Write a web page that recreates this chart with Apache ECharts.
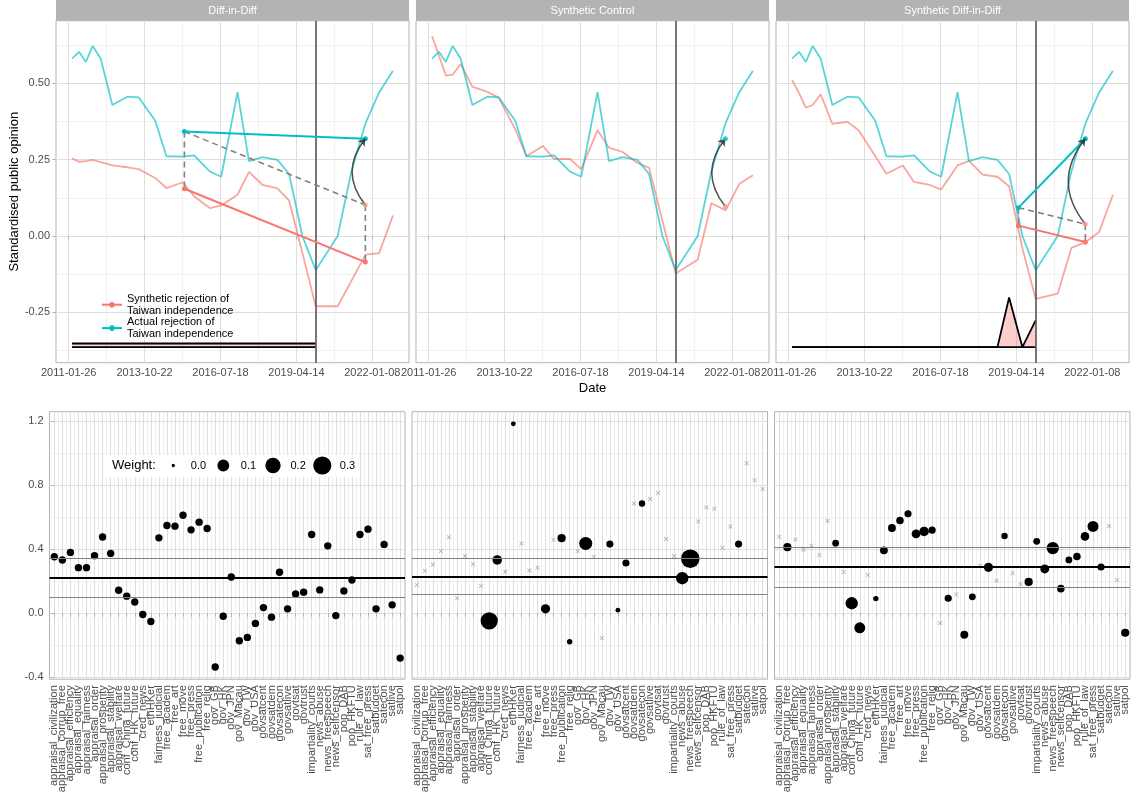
<!DOCTYPE html>
<html><head><meta charset="utf-8">
<script src="https://cdn.jsdelivr.net/npm/echarts@6/dist/echarts.min.js"></script>
<style>html,body{margin:0;padding:0;background:#fff}#c{width:1136px;height:798px}</style>
</head><body><div id="c"></div>
<script>
// ================= DATA =================
const panelTitles = ['Diff-in-Diff', 'Synthetic Control', 'Synthetic Diff-in-Diff'];
const dates = ['2011-03-11','2011-06-11','2011-09-09','2011-12-08','2012-03-22','2012-08-23','2013-03-08','2013-08-04','2014-03-11','2014-08-05','2015-03-10','2015-08-04','2016-03-02','2016-07-27','2017-02-27','2017-07-28','2018-01-24','2018-08-07','2019-01-08','2019-07-02','2019-12-24','2020-10-09','2021-04-07','2021-10-12','2022-04-08','2022-10-07'];
const nPre = 21;
const actual    = [0.581,0.603,0.570,0.622,0.581,0.429,0.456,0.454,0.377,0.261,0.260,0.264,0.211,0.194,0.471,0.245,0.258,0.249,0.203,0.000,-0.112,0.000,0.211,0.370,0.470,0.541];
const synthDID  = [0.254,0.243,0.245,0.249,0.242,0.231,0.225,0.219,0.190,0.157,0.176,0.130,0.091,0.100,0.135,0.210,0.167,0.156,0.116,-0.056,-0.230,-0.230,-0.147,-0.061,-0.056,0.067];
const synthSC   = [0.654,0.590,0.525,0.528,0.563,0.489,0.472,0.453,0.350,0.261,0.295,0.252,0.252,0.219,0.346,0.289,0.275,0.239,0.223,0.050,-0.123,-0.078,0.107,0.084,0.170,0.199];
const synthSDID = [0.511,0.468,0.420,0.429,0.464,0.367,0.374,0.346,0.262,0.204,0.231,0.177,0.167,0.152,0.231,0.246,0.201,0.194,0.163,-0.040,-0.206,-0.189,-0.039,-0.020,0.013,0.135];
// time weights (lambda) for pre-treatment periods
const lambdaDID  = [0.0476,0.0476,0.0476,0.0476,0.0476,0.0476,0.0476,0.0476,0.0476,0.0476,0.0476,0.0476,0.0476,0.0476,0.0476,0.0476,0.0476,0.0476,0.0476,0.0476,0.0476];
const lambdaSDID = [0,0,0,0,0,0,0,0,0,0,0,0,0,0,0,0,0,0,0.65,0,0.35];
const lambdaBase = -0.364;   // y level of the weight ribbon
const lambdaScale = 0.25;    // ribbon height per unit weight
const seriesNames = ['Synthetic rejection of\nTaiwan independence', 'Actual rejection of\nTaiwan independence'];
const dateTicks = ['2011-01-26','2013-10-22','2016-07-18','2019-04-14','2022-01-08'];
const topYTicks = [-0.25, 0, 0.25, 0.5];

const units = ['appraisal_civilization','appraisal_corrup_free','appraisal_efficiency','appraisal_equality','appraisal_fairness','appraisal_order','appraisal_prosperity','appraisal_stability','appraisal_welfare','conf_China_future','conf_HK_future','cred_news','ethHKer','fairness_judicial','free_academ','free_art','free_move','free_press','free_publication','free_relig','gov_GB','gov_HK','gov_JPN','gov_Macau','gov_TW','gov_USA','govsatcent','govsatdem','govsatecon','govsatlive','govtsat','govtrust','impartiality_courts','news_abuse','news_freespeech','news_selfcensor','pop_DAB','pop_HKFTU','rule_of_law','sat_free_press','satbudget','satecon','satlive','satpol'];
const unitEstDID  = [0.352,0.332,0.379,0.284,0.284,0.359,0.475,0.373,0.143,0.106,0.070,-0.008,-0.052,0.470,0.547,0.543,0.611,0.520,0.568,0.528,-0.336,-0.019,0.226,-0.172,-0.151,-0.064,0.035,-0.025,0.255,0.027,0.120,0.131,0.491,0.145,0.420,-0.015,0.139,0.207,0.491,0.524,0.027,0.429,0.052,-0.280];
const unitWDID    = [0.0227,0.0227,0.0227,0.0227,0.0227,0.0227,0.0227,0.0227,0.0227,0.0227,0.0227,0.0227,0.0227,0.0227,0.0227,0.0227,0.0227,0.0227,0.0227,0.0227,0.0227,0.0227,0.0227,0.0227,0.0227,0.0227,0.0227,0.0227,0.0227,0.0227,0.0227,0.0227,0.0227,0.0227,0.0227,0.0227,0.0227,0.0227,0.0227,0.0227,0.0227,0.0227,0.0227,0.0227];
const unitEstSC   = [0.176,0.265,0.303,0.388,0.473,0.093,0.356,0.305,0.170,-0.048,0.332,0.259,1.181,0.435,0.267,0.284,0.027,0.458,0.468,-0.178,0.388,0.435,0.350,-0.155,0.431,0.019,0.313,0.684,0.684,0.713,0.750,0.462,0.356,0.218,0.340,0.572,0.659,0.651,0.408,0.541,0.431,0.935,0.829,0.775];
const unitWSC     = [0,0,0,0,0,0,0,0,0,0.266,0.053,0,0.003,0,0,0,0.048,0,0.033,0.006,0,0.131,0,0,0.020,0.003,0.020,0,0.013,0,0,0,0,0.112,0.320,0,0,0,0,0,0.020,0,0,0];
const unitEstSDID = [0.477,0.412,0.460,0.396,0.421,0.363,0.576,0.437,0.257,0.062,-0.091,0.238,0.091,0.392,0.531,0.578,0.620,0.495,0.510,0.518,-0.062,0.093,0.116,-0.135,0.102,0.296,0.286,0.203,0.481,0.249,0.180,0.195,0.448,0.276,0.406,0.153,0.332,0.354,0.479,0.541,0.288,0.543,0.205,-0.122];
const unitWSDID   = [0,0.033,0,0,0,0,0,0.017,0,0.112,0.081,0,0.006,0.029,0.029,0.025,0.020,0.043,0.053,0.020,0,0.020,0,0.029,0.017,0,0.048,0,0.014,0,0,0.033,0.017,0.043,0.112,0.025,0.017,0.025,0.038,0.081,0.020,0,0,0.033];
const estimate = [0.218, 0.226, 0.288];
const estLow   = [0.095, 0.118, 0.162];
const estHigh  = [0.336, 0.336, 0.415];
const bottomYTicks = [-0.4, 0, 0.4, 0.8, 1.2];
const weightBreaks = [0, 0.1, 0.2, 0.3];

// ================= HELPERS =================
const RED = '#F8766D', CYAN = '#00BFC4';
const FONT = 'Liberation Sans, Arial, Helvetica, sans-serif';
const LAB = '#4d4d4d', TICK = '#b3b3b3';
const pad2 = n => String(n).padStart(2, '0');
const toT = s => { const p = s.split('-').map(Number); return new Date(p[0], p[1] - 1, p[2]).getTime(); };
const fmtDate = v => { const d = new Date(v); return d.getFullYear() + '-' + pad2(d.getMonth() + 1) + '-' + pad2(d.getDate()); };
const sz = w => 3.3 + 27 * Math.sqrt(w);
const expand = (lo, hi) => [lo - 0.05 * (hi - lo), hi + 0.05 * (hi - lo)];
function minorOf(ticks, lo, hi) {
  const out = [];
  const step0 = ticks[1] - ticks[0], stepN = ticks[ticks.length - 1] - ticks[ticks.length - 2];
  out.push(ticks[0] - step0 / 2);
  for (let i = 0; i < ticks.length - 1; i++) out.push((ticks[i] + ticks[i + 1]) / 2);
  out.push(ticks[ticks.length - 1] + stepN / 2);
  return out.filter(v => v >= lo && v <= hi);
}

const tT = dates.map(toT);
const preIdx = tT.map((_, i) => i).filter(i => i < nPre);
const postIdx = tT.map((_, i) => i).filter(i => i >= nPre);
const xTicks = dateTicks.map(toT);
const [xMin, xMax] = expand(tT[0], tT[tT.length - 1]);
const topAll = actual.concat(synthDID, synthSC, synthSDID, [lambdaBase]);
const [tyMin, tyMax] = expand(Math.min(...topAll), Math.max(...topAll));
const botAll = unitEstDID.concat(unitEstSC, unitEstSDID);
const [byMin, byMax] = expand(Math.min(...botAll), Math.max(...botAll));
const nU = units.length;
const uIdx = units.map((_, i) => i);

// ================= LAYOUT =================
const topLeft = [56, 416, 776], topW = 353, topTop = 20.7, topH = 342;
const botLeft = [49.5, 412, 774.5], botW = 355.5, botTop = 411.7, botH = 267.5;

const grids = [], xAxes = [], yAxes = [], series = [], graphics = [];
const GMAJ = { show: true, lineStyle: { color: '#dedede', width: 1 } };
const GMIN = { show: true, lineStyle: { color: '#ebebeb', width: 0.7 } };

function addGrid(left, top, width, height, xc, yc) {
  const g = grids.length;
  grids.push({ left, top, width, height, show: true, borderColor: '#b3b3b3', borderWidth: 1, backgroundColor: 'transparent', containLabel: false, outerBoundsMode: 'none' });
  const labelGroups = xc.labelGroups || [xc.major];
  const xLab = Object.assign({ show: true, color: LAB, fontSize: 11, fontFamily: FONT, hideOverlap: false, showMinLabel: true, showMaxLabel: true }, xc.label);
  const xi = xAxes.length;
  xAxes.push({ type: 'value', gridIndex: g, min: xc.min, max: xc.max, position: 'bottom',
    axisLine: { show: false },
    axisTick: { show: true, customValues: xc.major, length: 3.7, lineStyle: { color: TICK } },
    axisLabel: Object.assign({}, xLab, { customValues: labelGroups[0] }),
    splitLine: GMAJ });
  xAxes.push({ type: 'value', gridIndex: g, min: xc.min, max: xc.max, position: 'top',
    axisLine: { show: false }, axisTick: { show: false, customValues: xc.minor }, axisLabel: { show: false }, splitLine: GMIN });
  for (let j = 1; j < labelGroups.length; j++) {
    xAxes.push({ type: 'value', gridIndex: g, min: xc.min, max: xc.max, position: 'bottom', offset: 0,
      axisLine: { show: false }, axisTick: { show: false }, splitLine: { show: false },
      axisLabel: Object.assign({}, xLab, { customValues: labelGroups[j] }) });
  }
  const yi = yAxes.length;
  yAxes.push({ type: 'value', gridIndex: g, min: yc.min, max: yc.max, position: 'left',
    axisLine: { show: false },
    axisTick: { show: yc.showLabels, customValues: yc.major, length: 3.7, lineStyle: { color: TICK } },
    axisLabel: { show: yc.showLabels, customValues: yc.major, color: LAB, fontSize: 11, fontFamily: FONT, margin: 6, formatter: yc.fmt, hideOverlap: false, showMinLabel: true, showMaxLabel: true },
    splitLine: GMAJ });
  yAxes.push({ type: 'value', gridIndex: g, min: yc.min, max: yc.max, position: 'right',
    axisLine: { show: false }, axisTick: { show: false, customValues: yc.minor }, axisLabel: { show: false }, splitLine: GMIN });
  return { xAxisIndex: xi, yAxisIndex: yi };
}

// ================= TOP PANELS =================
const topPanels = [
  { synth: synthDID, lambda: lambdaDID, kind: 'did' },
  { synth: synthSC, lambda: null, kind: 'sc' },
  { synth: synthSDID, lambda: lambdaSDID, kind: 'did' }
];
const xMinor = minorOf(xTicks, xMin, xMax);
const tyMinor = minorOf(topYTicks, tyMin, tyMax);

function wmean(idx, w, arr) { let s = 0, sw = 0; idx.forEach((i, k) => { s += w[k] * arr[i]; sw += w[k]; }); return s / sw; }
function mean(idx, arr) { return idx.reduce((a, i) => a + arr[i], 0) / idx.length; }

topPanels.forEach((P, p) => {
  const ax = addGrid(topLeft[p], topTop, topW, topH,
    { min: xMin, max: xMax, major: xTicks, minor: xMinor, label: { formatter: fmtDate, margin: 5 } },
    { min: tyMin, max: tyMax, major: topYTicks, minor: tyMinor, showLabels: p === 0, fmt: v => v.toFixed(2) });
  graphics.push({ type: 'rect', shape: { x: topLeft[p], y: 0, width: topW, height: topTop }, style: { fill: '#b3b3b3' }, z: 50 });
  graphics.push({ type: 'text', x: topLeft[p] + topW / 2, y: topTop / 2 + 0.5, style: { text: panelTitles[p], fill: '#fff', fontSize: 11, fontFamily: FONT, textAlign: 'center', textVerticalAlign: 'middle' }, z: 51 });

  if (P.lambda) {
    const lam = P.lambda;
    // pink ribbon between baseline and weight line, via the axes' own coordinate mapping
    series.push(Object.assign({ type: 'custom', silent: true, z: 2, data: [[tT[0], lambdaBase]],
      renderItem: (params, api) => {
        const pts = [];
        preIdx.forEach(i => pts.push(api.coord([tT[i], lambdaBase + lam[i] * lambdaScale])));
        preIdx.slice().reverse().forEach(i => pts.push(api.coord([tT[i], lambdaBase])));
        return { type: 'polygon', shape: { points: pts }, style: { fill: 'rgba(248,118,109,0.35)' } };
      } }, ax));
    series.push(Object.assign({ type: 'line', data: preIdx.map(i => [tT[i], lambdaBase]), symbol: 'none', silent: true,
      lineStyle: { color: '#000', width: 1.8 }, z: 2 }, ax));
    series.push(Object.assign({ type: 'line', data: preIdx.map(i => [tT[i], lambdaBase + lam[i] * lambdaScale]), symbol: 'none', silent: true,
      lineStyle: { color: '#000', width: 1.8 }, z: 2 }, ax));
  }
  series.push(Object.assign({ name: seriesNames[0], type: 'line', data: tT.map((t, i) => [t, P.synth[i]]), symbol: 'circle', showSymbol: false, symbolSize: 5,
    itemStyle: { color: RED }, lineStyle: { color: RED, width: 1.8, opacity: 0.65 }, z: 3 }, ax));
  series.push(Object.assign({ name: seriesNames[1], type: 'line', data: tT.map((t, i) => [t, actual[i]]), symbol: 'circle', showSymbol: false, symbolSize: 5,
    itemStyle: { color: CYAN }, lineStyle: { color: CYAN, width: 1.8, opacity: 0.65 }, z: 3,
    markLine: { silent: true, symbol: ['none', 'none'], label: { show: false }, animation: false,
      lineStyle: { color: '#555', width: 1.6, type: 'solid', opacity: 1 }, data: [{ xAxis: tT[nPre - 1] }] } }, ax));

  const postT = mean(postIdx, tT), postA = mean(postIdx, actual), postS = mean(postIdx, P.synth);
  const seg = (a, b, color, extra) => series.push(Object.assign({ type: 'line', data: [a, b], silent: true, z: 5,
    symbol: 'none', lineStyle: { color, width: 2 } }, extra || {}, ax));
  const arrow = (from, to) => series.push(Object.assign({ type: 'lines', coordinateSystem: 'cartesian2d', silent: true, z: 6,
    symbol: ['none', 'arrow'], symbolSize: 7,
    lineStyle: { color: '#333', width: 1.5, curveness: 0.4, opacity: 0.85 }, data: [{ coords: [from, to] }] }, ax));
  const dot = (pt, color) => series.push(Object.assign({ type: 'scatter', data: [pt], symbolSize: 5, silent: true, z: 7, itemStyle: { color } }, ax));

  if (P.kind === 'did') {
    const preT = wmean(preIdx, P.lambda, tT), preA = wmean(preIdx, P.lambda, actual), preS = wmean(preIdx, P.lambda, P.synth);
    const cf = postS + (preA - preS);
    const dash = { lineStyle: { color: '#808080', width: 1.6, type: [6, 4] } };
    seg([preT, preA], [preT, preS], '#808080', dash);
    seg([postT, cf], [postT, postS], '#808080', dash);
    seg([preT, preA], [postT, cf], '#808080', dash);
    seg([preT, preS], [postT, postS], RED, { symbol: 'circle', symbolSize: 5, itemStyle: { color: RED } });
    seg([preT, preA], [postT, postA], CYAN, { symbol: 'circle', symbolSize: 5, itemStyle: { color: CYAN } });
    arrow([postT, cf], [postT, postA]);
    dot([postT, cf], '#f79a93');
  } else {
    arrow([postT, postS], [postT, postA]);
    dot([postT, postS], '#f79a93');
    dot([postT, postA], CYAN);
  }
});

// ================= BOTTOM PANELS =================
const unitPanels = [
  { est: unitEstDID, w: unitWDID },
  { est: unitEstSC, w: unitWSC },
  { est: unitEstSDID, w: unitWSDID }
];
const bxMajor = uIdx;
const bxMinor = uIdx.slice(0, nU - 1).map(i => i + 0.5);
const bxLabelGroups = [uIdx.filter(i => i % 2 === 0), uIdx.filter(i => i % 2 === 1)];
const byMinor = minorOf(bottomYTicks, byMin, byMax);
const CROSS = 'path://M0,1.2L1.2,0L5,3.8L8.8,0L10,1.2L6.2,5L10,8.8L8.8,10L5,6.2L1.2,10L0,8.8L3.8,5Z';

unitPanels.forEach((B, k) => {
  const ax = addGrid(botLeft[k], botTop, botW, botH,
    { min: -0.6, max: nU - 1 + 0.6, major: bxMajor, minor: bxMinor, labelGroups: bxLabelGroups,
      label: { rotate: 90, margin: 6, formatter: v => units[Math.round(v)] } },
    { min: byMin, max: byMax, major: bottomYTicks, minor: byMinor, showLabels: k === 0, fmt: v => v.toFixed(1) });
  series.push(Object.assign({ type: 'scatter', silent: true, z: 2,
    data: uIdx.filter(i => B.w[i] === 0).map(i => [i, B.est[i]]),
    symbol: CROSS, symbolSize: 4.5, itemStyle: { color: '#9a9a9a' },
    markLine: { silent: true, symbol: ['none', 'none'], label: { show: false }, animation: false,
      data: [
        { yAxis: estLow[k], lineStyle: { color: '#808080', width: 1.1, type: 'solid' } },
        { yAxis: estHigh[k], lineStyle: { color: '#808080', width: 1.1, type: 'solid' } },
        { yAxis: estimate[k], lineStyle: { color: '#000', width: 2.2, type: 'solid' } }
      ] } }, ax));
  series.push(Object.assign({ type: 'scatter', silent: true, z: 3,
    data: uIdx.filter(i => B.w[i] > 0).map(i => [i, B.est[i], B.w[i]]),
    symbol: 'circle', symbolSize: v => sz(v[2]), itemStyle: { color: '#000', opacity: 1 } }, ax));
});

// ================= TEXT / LEGENDS =================
graphics.push({ type: 'text', x: (topLeft[0] + topLeft[2] + topW) / 2, y: 388.5, style: { text: 'Date', fill: '#000', fontSize: 13, fontFamily: FONT, textAlign: 'center', textVerticalAlign: 'middle' } });
graphics.push({ type: 'text', x: 14, y: topTop + topH / 2, rotation: Math.PI / 2, style: { text: 'Standardised public opinion', fill: '#000', fontSize: 13, fontFamily: FONT, textAlign: 'center', textVerticalAlign: 'middle' } });

// weight legend
const wlY = 465.5;
const wlDotX = [173.3, 223.3, 273, 322.3];
graphics.push({ type: 'rect', shape: { x: 106, y: 455, width: 252, height: 22 }, style: { fill: '#fff' }, z: 100 });
graphics.push({ type: 'text', x: 112, y: wlY, style: { text: 'Weight:', fill: '#000', fontSize: 13, fontFamily: FONT, textAlign: 'left', textVerticalAlign: 'middle' }, z: 101 });
weightBreaks.forEach((w, i) => {
  graphics.push({ type: 'circle', shape: { cx: wlDotX[i], cy: wlY, r: sz(w) / 2 }, style: { fill: '#000' }, z: 101 });
  graphics.push({ type: 'text', x: wlDotX[i] + 17.5, y: wlY, style: { text: w.toFixed(1), fill: '#000', fontSize: 11, fontFamily: FONT, textAlign: 'left', textVerticalAlign: 'middle' }, z: 101 });
});

const chart = echarts.init(document.getElementById('c'), null, { renderer: 'canvas' });
chart.setOption({
  animation: false,
  backgroundColor: '#fff',
  textStyle: { fontFamily: FONT },
  grid: grids, xAxis: xAxes, yAxis: yAxes, series,
  legend: {
    data: seriesNames.map(n => ({ name: n, itemStyle: { opacity: 1 }, lineStyle: { opacity: 1 } })),
    orient: 'vertical', left: 96, top: 288, itemWidth: 20, itemHeight: 7, itemGap: 0,
    selectedMode: false, textStyle: { fontSize: 11, color: '#000', lineHeight: 11.7, fontFamily: FONT }
  },
  graphic: graphics
});
</script>
</body></html>
